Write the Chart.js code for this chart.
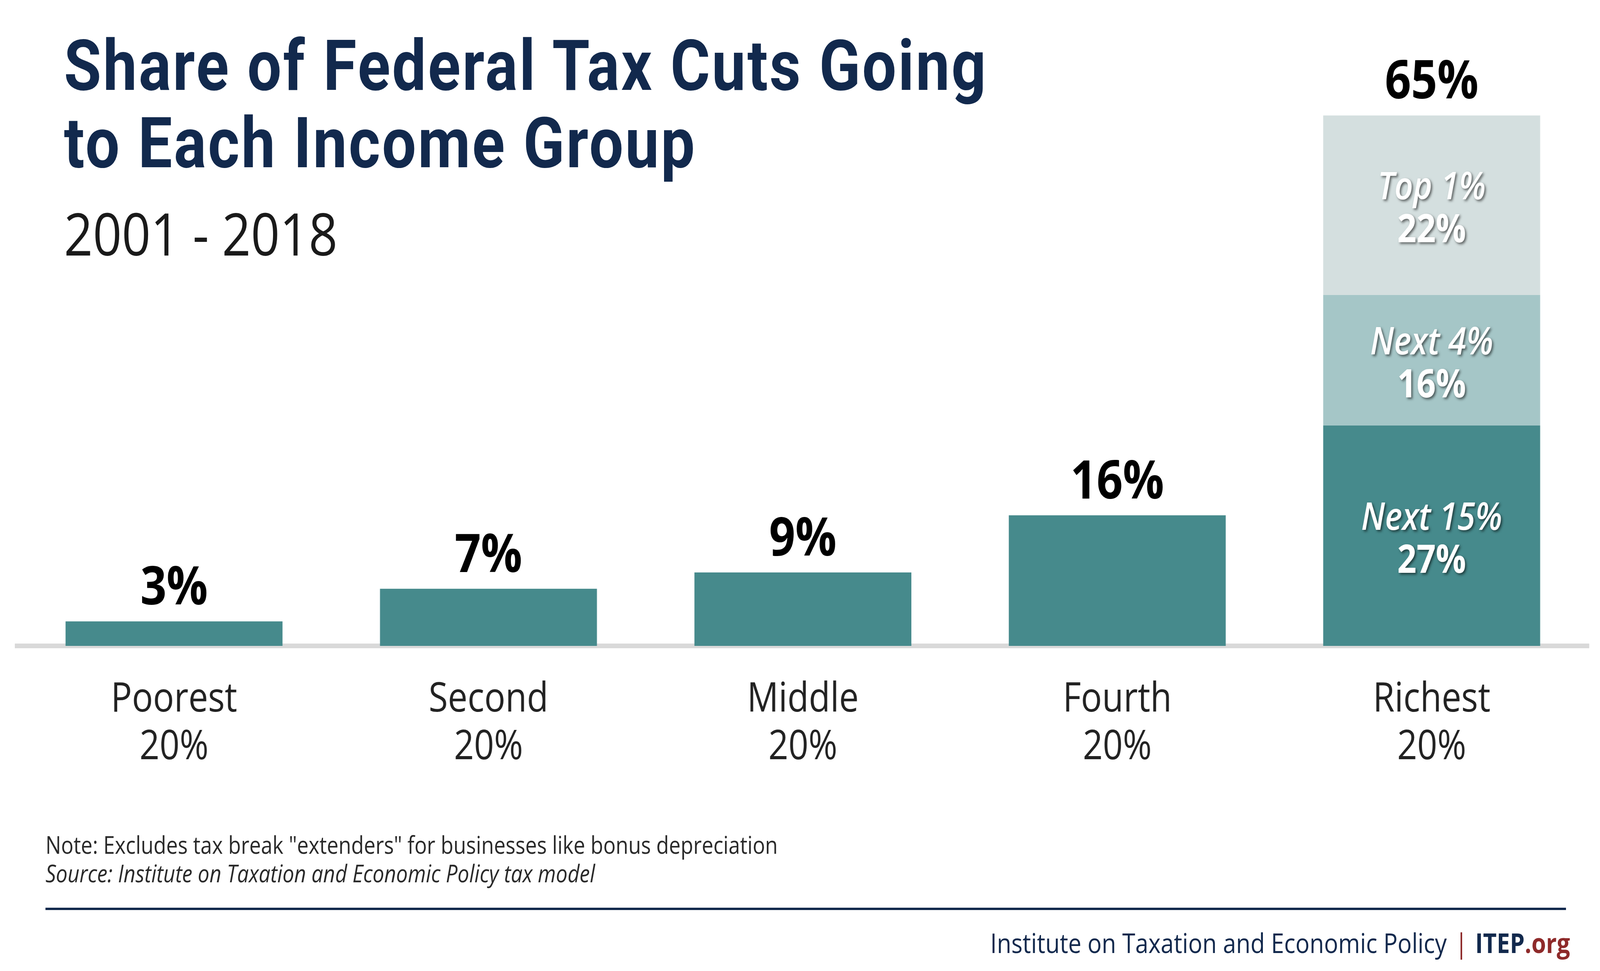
<!DOCTYPE html>
<html>
<head>
<meta charset="utf-8">
<script src="https://cdn.jsdelivr.net/npm/chart.js@4.4.9/dist/chart.umd.min.js"></script>
<style>
  html, body { margin:0; padding:0; background:#fff; overflow:hidden; }
  #wrap { position:absolute; left:0; top:0; width:4751px; height:2485px; overflow:hidden; transform-origin:0 0; }
  #wrap canvas { position:absolute; left:0; top:0; }
  .txt { position:absolute; white-space:nowrap; font-family:"Open Sans", sans-serif; }
  #title { left:190px; top:70px; font-family:Roboto, sans-serif; font-weight:700; font-size:180px; line-height:198px; color:#12294d; letter-spacing:5px; }
  #sub { left:190px; top:521px; font-size:150px; line-height:150px; color:#1a1a1a; }
  #note { left:135px; top:2125px; font-size:61.5px; line-height:73px; color:#2a2a2a; }
  #rule { position:absolute; left:135px; top:2323px; width:4515px; height:6px; background:#12294d; }
  #foot { right:89px; top:2376px; font-size:70px; line-height:72px; color:#12294d; }
  #foot .bar { color:#8e2a2a; margin:0 22px 0 24px; }
  #foot b { font-weight:700; }
  #foot .org { color:#8e2a2a; font-weight:700; }
</style>
</head>
<body>
<div id="wrap">
  <canvas id="chart"></canvas>
  <div id="title" class="txt">Share of Federal Tax Cuts Going<br>to Each Income Group</div>
  <div id="sub" class="txt">2001 - 2018</div>
  <div id="note" class="txt">Note: Excludes tax break "extenders" for businesses like bonus depreciation<br><i>Source: Institute on Taxation and Economic Policy tax model</i></div>
  <div id="rule"></div>
  <div id="foot" class="txt">Institute on Taxation and Economic Policy<span class="bar">|</span><b>ITEP</b><span class="org">.org</span></div>
</div>
<script>
/* data */
const categories = [['Poorest','20%'],['Second','20%'],['Middle','20%'],['Fourth','20%'],['Richest','20%']];
const baseShare  = [3, 7, 9, 16, 27];      // whole quintile, or Next 15% for the richest
const next4Share = [null, null, null, null, 16];
const top1Share  = [null, null, null, null, 22];
const segmentNames = ['Next 15%', 'Next 4%', 'Top 1%'];
const splitIndex = 4;                      // only the richest bar is split

const teal = '#468a8c', teal2 = '#a5c6c7', teal3 = '#d4dfdf';

/* the window may be narrower than the 4751x2485 layout: stretch it to fill */
const W = 4751, H = 2485;
const wrap = document.getElementById('wrap');
wrap.style.transform = `scale(${window.innerWidth / W}, ${window.innerHeight / H})`;

/* labels drawn on top of bars */
const barLabels = {
  id:'barLabels',
  afterDatasetsDraw(chart) {
    const ctx = chart.ctx;
    const sets = chart.data.datasets;
    ctx.save();
    ctx.textAlign = 'center';
    ctx.textBaseline = 'alphabetic';
    // totals above each bar
    categories.forEach((_, i) => {
      let total = 0, topY = null;
      sets.forEach((ds, d) => {
        const v = ds.data[i];
        if (v == null) return;
        total += v;
        const el = chart.getDatasetMeta(d).data[i];
        topY = topY == null ? el.y : Math.min(topY, el.y);
      });
      const x = chart.getDatasetMeta(0).data[i].x;
      ctx.font = '700 136px "Open Sans"';
      ctx.fillStyle = '#000';
      ctx.fillText(total + '%', x, topY - 43);
    });
    // names inside the split bar
    ctx.shadowColor = 'rgba(0,0,0,0.55)';
    ctx.shadowOffsetX = 4; ctx.shadowOffsetY = 4; ctx.shadowBlur = 6;
    ctx.fillStyle = '#fff';
    sets.forEach((ds, d) => {
      const v = ds.data[splitIndex];
      if (v == null) return;
      const el = chart.getDatasetMeta(d).data[splitIndex];
      const c = (el.y + el.base) / 2;
      ctx.font = 'italic 600 97px "Open Sans"';
      ctx.fillText(segmentNames[d], el.x, c - 15);
      ctx.font = '700 100px "Open Sans"';
      ctx.fillText(v + '%', el.x, c + 95);
    });
    ctx.restore();
  }
};

const canvas = document.getElementById('chart');
canvas.width = W; canvas.height = H;
canvas.style.width = W + 'px'; canvas.style.height = H + 'px';

new Chart(canvas.getContext('2d'), {
  type:'bar',
  data:{
    labels:categories,
    datasets:[
      { label:segmentNames[0], data:baseShare,  backgroundColor:teal },
      { label:segmentNames[1], data:next4Share, backgroundColor:teal2 },
      { label:segmentNames[2], data:top1Share,  backgroundColor:teal3 }
    ]
  },
  options:{
    responsive:false, animation:false, devicePixelRatio:1,
    layout:{ padding:{ left:50, right:33, top:191, bottom:432 } },
    datasets:{ bar:{ categoryPercentage:1, barPercentage:0.69, borderWidth:0 } },
    scales:{
      x:{
        stacked:true,
        grid:{ display:false, drawTicks:false },
        border:{ display:true, color:'#d9d9d9', width:12 },
        ticks:{ color:'#222', padding:78, font:{ family:'"Open Sans"', size:104, lineHeight:1.17 } },
        afterFit(scale){ scale.height = 400; }
      },
      y:{ stacked:true, display:false, min:0, max:70 }
    },
    plugins:{ legend:{ display:false }, tooltip:{ enabled:false } }
  },
  plugins:[barLabels]
});
</script>
</body>
</html>
